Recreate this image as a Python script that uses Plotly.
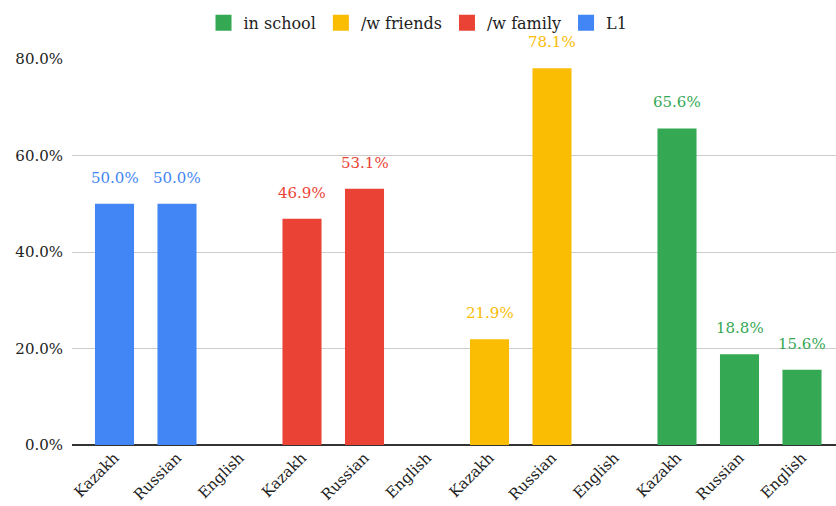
import plotly.graph_objects as go

categories = ["Kazakh", "Russian", "English"] * 4
series_names = ["L1", "/w family", "/w friends", "in school"]
series_values = {
    "L1": [0.500, 0.500, 0.0],
    "/w family": [0.469, 0.531, 0.0],
    "/w friends": [0.219, 0.781, 0.0],
    "in school": [0.656, 0.188, 0.156],
}
colors = {
    "L1": "#4285F4",
    "/w family": "#EA4335",
    "/w friends": "#FBBC04",
    "in school": "#34A853",
}

FONT = "DejaVu Serif"
fig = go.Figure()
annotations = []
for gi, name in enumerate(series_names):
    vals = series_values[name]
    xs = [gi * 3 + j for j in range(3)]
    fig.add_trace(go.Bar(
        x=xs, y=vals, name=name, marker_color=colors[name],
        width=0.625, marker_line_width=0, showlegend=False,
    ))
    for x, v in zip(xs, vals):
        if v > 0:
            annotations.append(dict(
                x=x, y=v, xref="x", yref="y", text=f"{v*100:.1f}%",
                showarrow=False, yshift=26, yanchor="middle",
                font=dict(family=FONT, size=15, color=colors[name]),
            ))

# legend entries (rounded-square swatches)
for name in reversed(series_names):
    fig.add_trace(go.Scatter(
        x=[None], y=[None], mode="markers", name=name,
        marker=dict(symbol="square", size=16, color=colors[name]),
        showlegend=True,
    ))

fig.update_layout(
    width=836, height=506,
    margin=dict(l=72, r=0, t=59, b=61),
    plot_bgcolor="white", paper_bgcolor="white",
    barmode="overlay",
    font=dict(family=FONT, size=15, color="#222222"),
    legend=dict(
        orientation="h", xref="container", x=0.5, xanchor="center",
        yref="container", y=0.955, yanchor="middle",
        font=dict(family=FONT, size=16, color="#222222"),
        itemwidth=30,
    ),
    annotations=annotations,
    showlegend=True,
)
fig.update_xaxes(
    range=[-0.68, 11.544],
    tickmode="array", tickvals=list(range(12)), ticktext=categories,
    tickangle=-45, showgrid=False, showline=False, ticks="",
    tickfont=dict(family=FONT, size=15, color="#222222"),
)
fig.update_yaxes(
    range=[0, 0.8], tickvals=[0, 0.2, 0.4, 0.6, 0.8], tickformat=".1%",
    showgrid=True, gridcolor="#cccccc", gridwidth=1,
    zeroline=True, zerolinecolor="#333333", zerolinewidth=1.5,
    showline=False, ticks="", ticklabelstandoff=8,
    tickfont=dict(family=FONT, size=15, color="#222222"),
)

fig.write_html("out.html")
